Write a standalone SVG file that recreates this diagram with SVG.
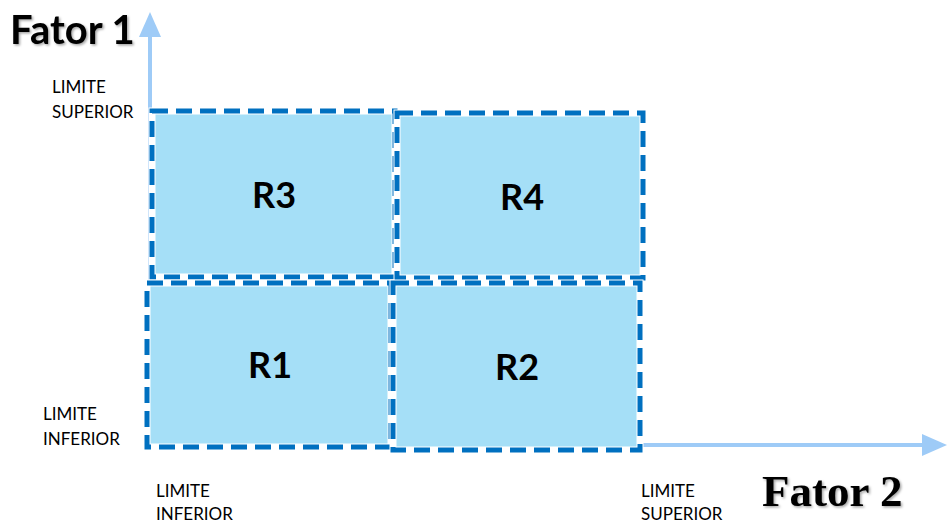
<svg xmlns="http://www.w3.org/2000/svg" width="947" height="525" viewBox="0 0 947 525">
<style>
.axis{stroke:#9ecbf7;stroke-width:4;fill:none}
.head{fill:#9ecbf7}
.box{fill:#a5dff7;stroke:#ffffff;stroke-width:7}
.dash{fill:none;stroke:#0070c0;stroke-width:5;stroke-dasharray:16 8}
.rl{font-family:Lato,"Open Sans",sans-serif;font-weight:bold;font-size:36px;fill:#000;text-anchor:middle}
.lim{font-family:Lato,"Open Sans",sans-serif;font-size:17px;fill:#000}
</style>
<defs>
<filter id="sh" x="-10%" y="-10%" width="130%" height="140%">
<feDropShadow dx="1.5" dy="1.5" stdDeviation="1" flood-color="#000" flood-opacity="0.35"/>
</filter>
</defs>
<g id="connectors">
<line class="axis" x1="150" y1="447" x2="150" y2="34"/>
<polygon class="head" points="150,12 139,37 161,37"/>
<line class="axis" x1="148" y1="445" x2="925" y2="445"/>
<polygon class="head" points="947,445 922,434 922,456"/>
</g>
<g id="R3">
<rect class="box" x="152" y="111" width="243" height="166"/>
<rect class="dash" x="152" y="111" width="243" height="166"/>
<text class="rl" x="274" y="208">R3</text>
</g>
<g id="R4">
<rect class="box" x="397" y="113" width="246" height="165"/>
<rect class="dash" x="397" y="113" width="246" height="165"/>
<text class="rl" x="522" y="210">R4</text>
</g>
<g id="R1">
<rect class="box" x="147" y="283" width="244" height="164"/>
<rect class="dash" x="147" y="283" width="244" height="164"/>
<text class="rl" x="270" y="378">R1</text>
</g>
<g id="R2">
<rect class="box" x="393" y="283" width="247" height="167"/>
<rect class="dash" x="393" y="283" width="247" height="167"/>
<text class="rl" x="517" y="380">R2</text>
</g>
<g id="labels">
<text x="10" y="44" font-family="Lato,'Open Sans',sans-serif" font-weight="bold" font-size="40" filter="url(#sh)">Fator 1</text>
<text x="762" y="506" font-family="'Liberation Serif','DejaVu Serif',serif" font-weight="bold" font-size="45" filter="url(#sh)">Fator 2</text>
<text class="lim" x="52" y="93">LIMITE</text>
<text class="lim" x="52" y="118">SUPERIOR</text>
<text class="lim" x="43" y="420">LIMITE</text>
<text class="lim" x="43" y="445">INFERIOR</text>
<text class="lim" x="156" y="497">LIMITE</text>
<text class="lim" x="156" y="520">INFERIOR</text>
<text class="lim" x="641" y="497">LIMITE</text>
<text class="lim" x="641" y="520">SUPERIOR</text>
</g>
</svg>
